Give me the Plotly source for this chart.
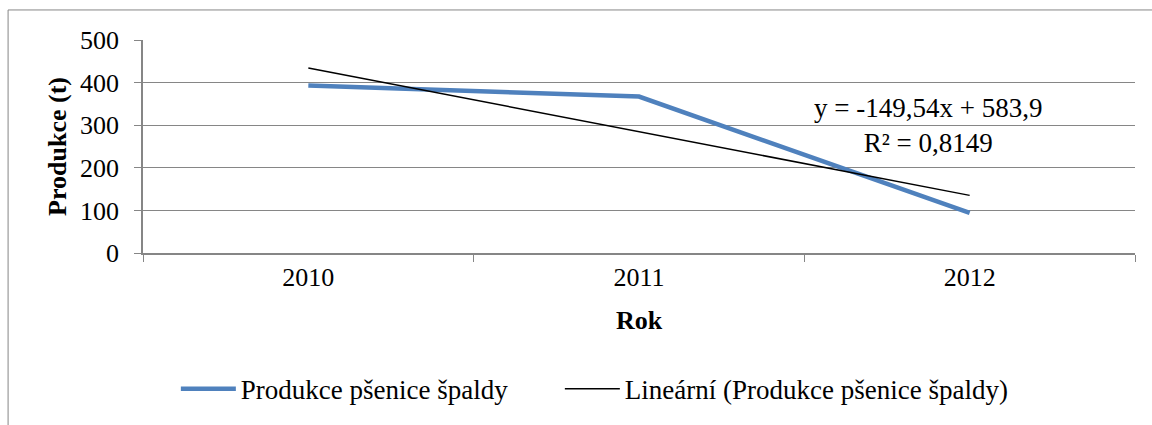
import numpy as np
import plotly.graph_objects as go

# Wheat (spelt) production by year
years = ["2010", "2011", "2012"]
production = [393.21, 367.12, 94.13]

series_name = "Produkce pšenice špaldy"
trend_name = "Lineární (Produkce pšenice špaldy)"

# Linear trend over the year index 1..n
idx = np.arange(1, len(production) + 1)
slope, intercept = np.polyfit(idx, production, 1)
trend = slope * idx + intercept
r2 = 1 - np.sum((np.array(production) - trend) ** 2) / np.sum(
    (np.array(production) - np.mean(production)) ** 2
)

def cz(v, nd):
    return f"{v:.{nd}f}".replace(".", ",")

eq_text = f"y = {cz(slope, 2)}x + {cz(intercept, 1)}<br>R² = {cz(r2, 4)}"

FONT = "Liberation Serif"
FS = 26
GRID = "#868686"

fig = go.Figure()
fig.add_trace(go.Scatter(
    x=years, y=production, mode="lines", name=series_name,
    line=dict(color="#4F81BD", width=4.5), legendwidth=314,
))
fig.add_trace(go.Scatter(
    x=years, y=trend, mode="lines", name=trend_name,
    line=dict(color="black", width=1.5), legendwidth=385,
))

fig.add_annotation(
    x=0.791, xref="paper", y=300, yref="y",
    text=eq_text, showarrow=False, align="center",
    font=dict(family=FONT, size=27, color="black"),
    xanchor="center", yanchor="middle",
)

# Outer chart frame
fig.add_shape(
    type="rect", xref="paper", yref="paper",
    x0=-0.136, x1=1.2, y0=-1.5, y1=1.141,
    line=dict(color=GRID, width=1), layer="below",
)

fig.update_layout(
    width=1152, height=425,
    margin=dict(l=143, r=17, t=40, b=172),
    plot_bgcolor="white", paper_bgcolor="white",
    font=dict(family=FONT, size=FS, color="black"),
    showlegend=True,
    legend=dict(
        orientation="h", x=0.456, xanchor="center", y=-0.64, yanchor="middle",
        font=dict(family=FONT, size=27, color="black"),
        itemwidth=55, traceorder="normal",
    ),
    xaxis=dict(
        type="category", range=[-0.5, 2.5], tickson="boundaries",
        ticks="outside", ticklen=7,
        tickcolor=GRID, showline=True, linecolor=GRID, linewidth=1.5,
        showgrid=False, tickfont=dict(family=FONT, size=FS),
        title=dict(text="<b>Rok</b>", font=dict(family=FONT, size=FS), standoff=20),
    ),
    yaxis=dict(
        range=[0, 500], dtick=100, ticks="outside", ticklen=7,
        tickcolor=GRID, showline=True, linecolor=GRID, linewidth=1.5,
        showgrid=True, gridcolor=GRID, gridwidth=1, zeroline=False,
        tickfont=dict(family=FONT, size=FS), ticklabelstandoff=10,
        title=dict(text="<b>Produkce (t)</b>", font=dict(family=FONT, size=FS), standoff=6),
    ),
)

fig.write_html("out.html")
